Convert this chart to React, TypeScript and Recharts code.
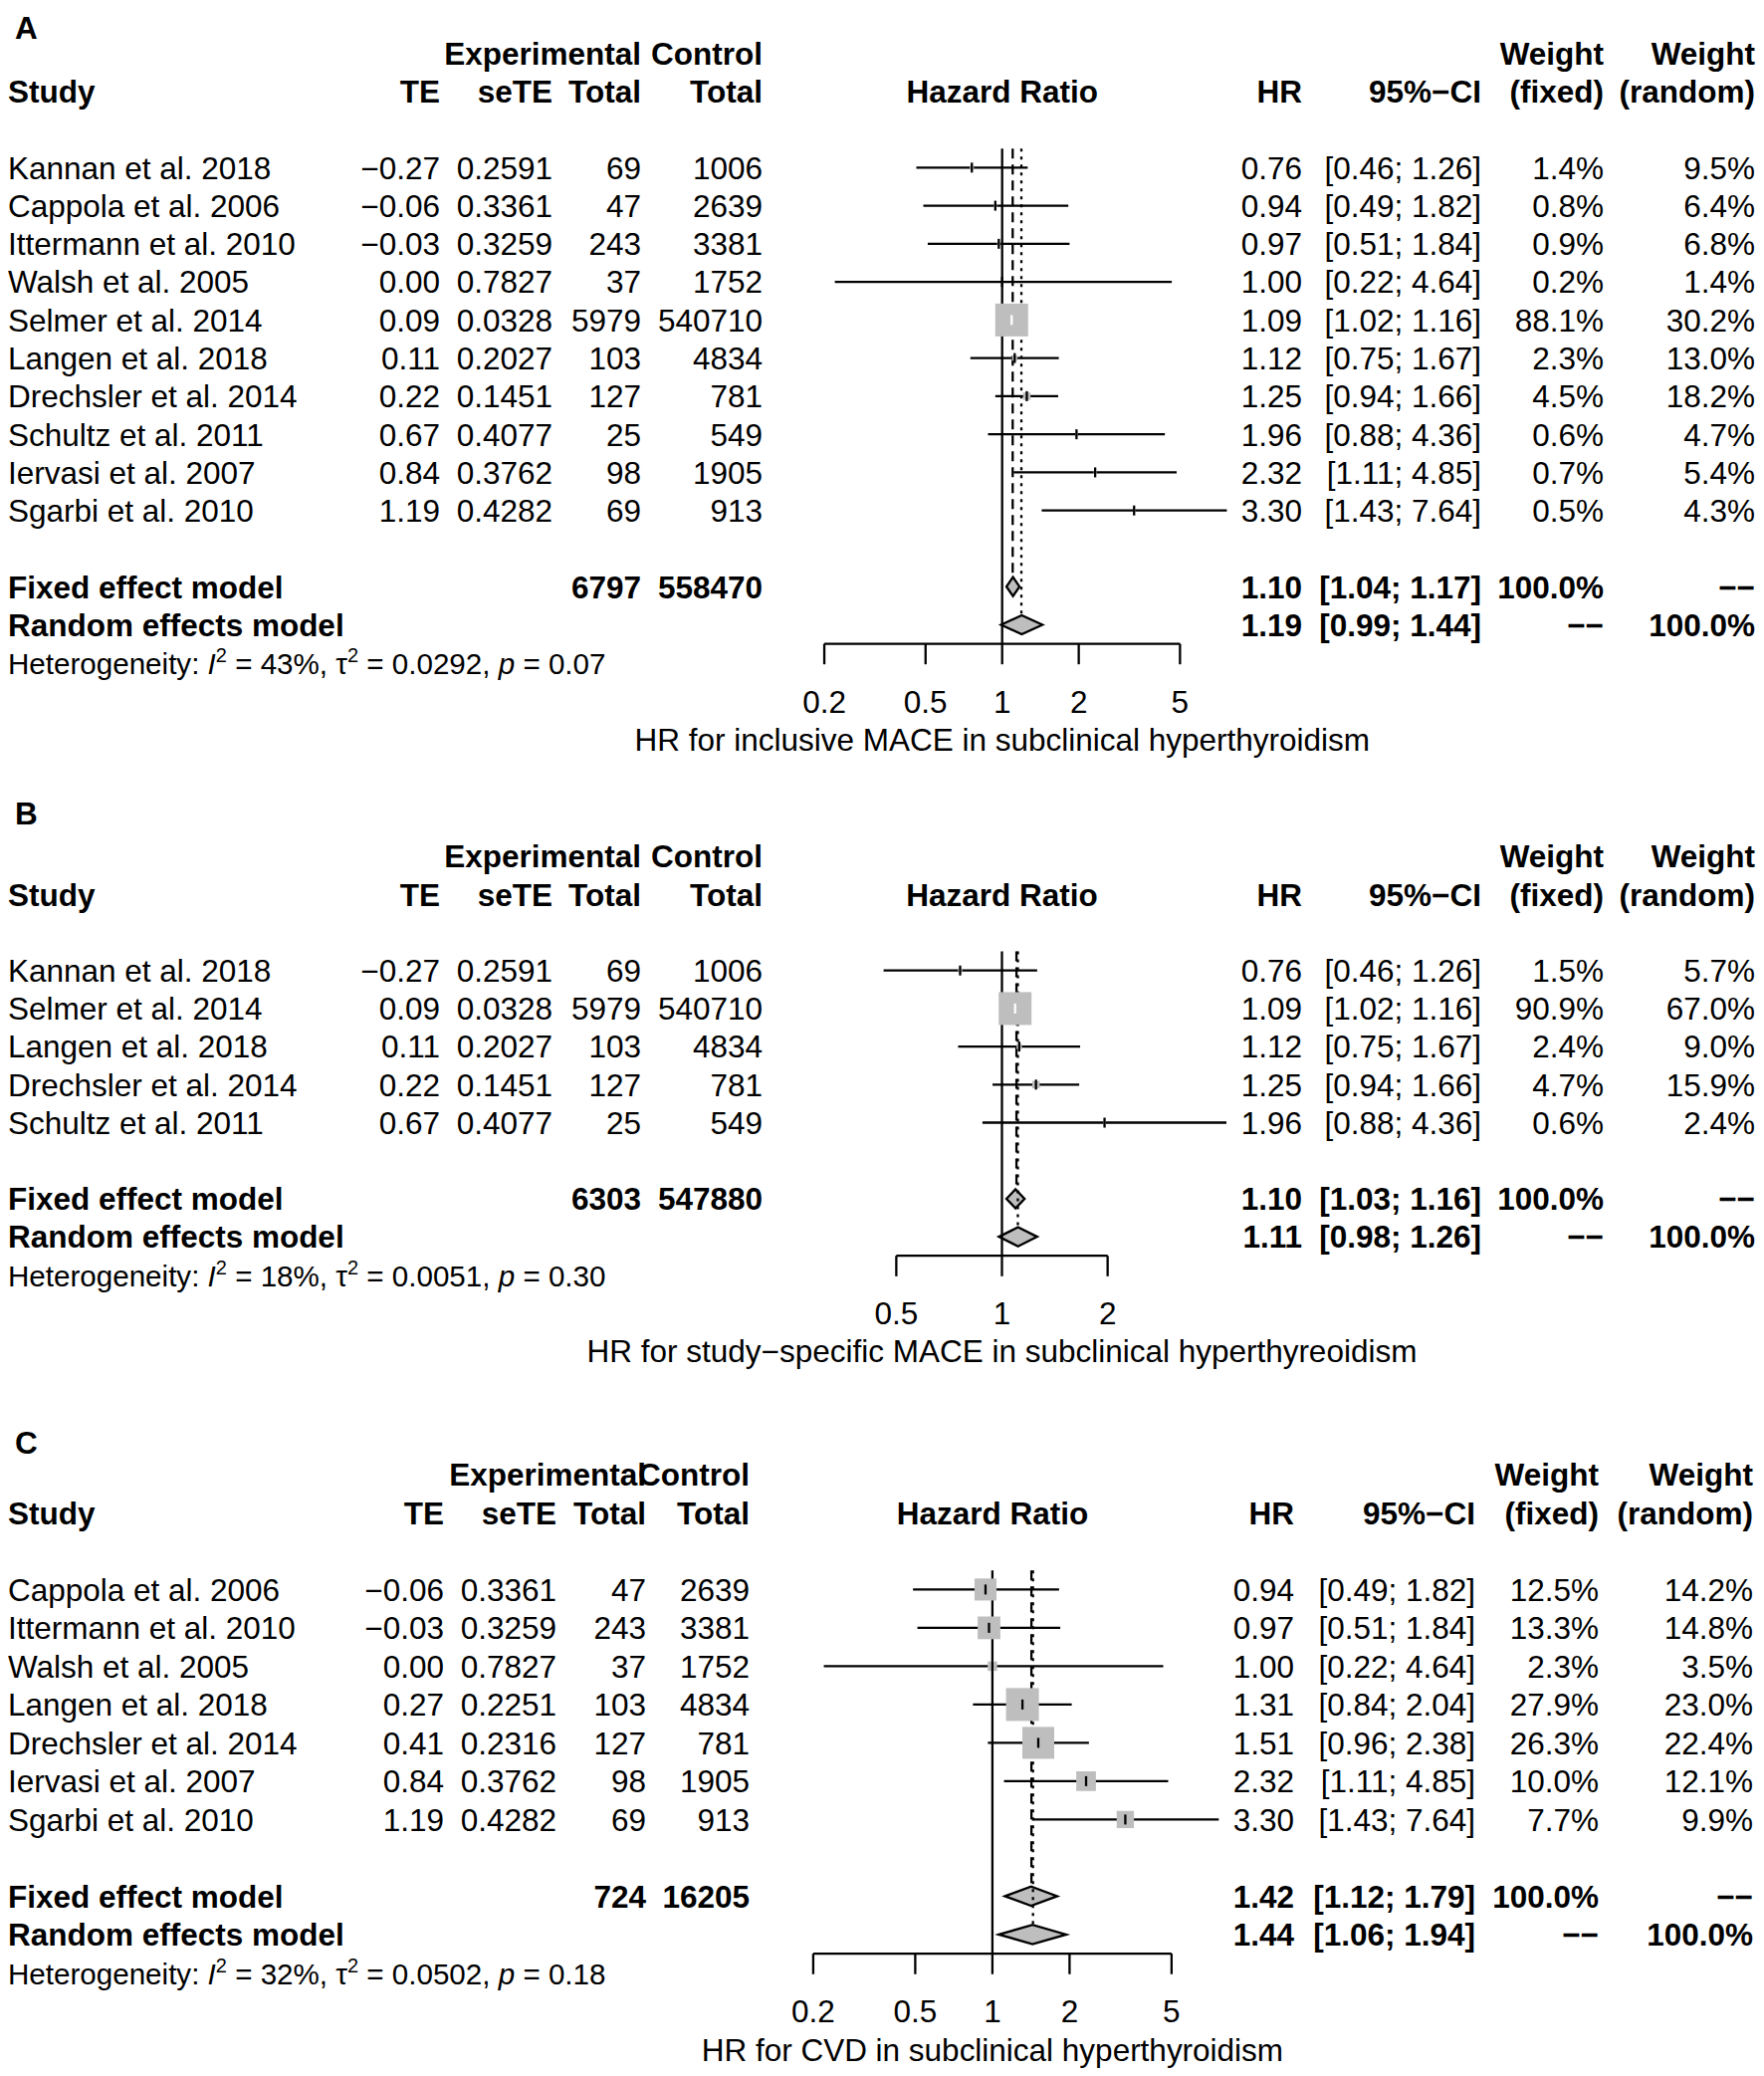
import React from 'react'
import { ScatterChart, Scatter, XAxis, YAxis, ErrorBar, ReferenceLine, ReferenceArea } from 'recharts'

const FONT = '"Liberation Sans", Arial, Helvetica, sans-serif'
const FS = 31.5
const GREY = '#bebebe'
const LW = 2.3
const MINUS = '\u2212'
const W = 1772

// ---- panel A: inclusive MACE
const studiesA = ['Kannan et al. 2018', 'Cappola et al. 2006', 'Ittermann et al. 2010', 'Walsh et al. 2005', 'Selmer et al. 2014', 'Langen et al. 2018', 'Drechsler et al. 2014', 'Schultz et al. 2011', 'Iervasi et al. 2007', 'Sgarbi et al. 2010']
const teA = [-0.27, -0.06, -0.03, 0.0, 0.09, 0.11, 0.22, 0.67, 0.84, 1.19]
const seA = [0.2591, 0.3361, 0.3259, 0.7827, 0.0328, 0.2027, 0.1451, 0.4077, 0.3762, 0.4282]
const nExpA = [69, 47, 243, 37, 5979, 103, 127, 25, 98, 69]
const nCtrlA = [1006, 2639, 3381, 1752, 540710, 4834, 781, 549, 1905, 913]
const hrA = [0.76, 0.94, 0.97, 1.0, 1.09, 1.12, 1.25, 1.96, 2.32, 3.3]
const loA = [0.46, 0.49, 0.51, 0.22, 1.02, 0.75, 0.94, 0.88, 1.11, 1.43]
const hiA = [1.26, 1.82, 1.84, 4.64, 1.16, 1.67, 1.66, 4.36, 4.85, 7.64]
const wFixA = [1.4, 0.8, 0.9, 0.2, 88.1, 2.3, 4.5, 0.6, 0.7, 0.5]
const wRanA = [9.5, 6.4, 6.8, 1.4, 30.2, 13.0, 18.2, 4.7, 5.4, 4.3]
const fixedA = [1.1, 1.04, 1.17]
const randomA = [1.19, 0.99, 1.44]
const totalsA = [6797, 558470]
const hetA = ['43%', '0.0292', '0.07']
const ticksA = [0.2, 0.5, 1, 2, 5]

// ---- panel B: study-specific MACE
const studiesB = ['Kannan et al. 2018', 'Selmer et al. 2014', 'Langen et al. 2018', 'Drechsler et al. 2014', 'Schultz et al. 2011']
const teB = [-0.27, 0.09, 0.11, 0.22, 0.67]
const seB = [0.2591, 0.0328, 0.2027, 0.1451, 0.4077]
const nExpB = [69, 5979, 103, 127, 25]
const nCtrlB = [1006, 540710, 4834, 781, 549]
const hrB = [0.76, 1.09, 1.12, 1.25, 1.96]
const loB = [0.46, 1.02, 0.75, 0.94, 0.88]
const hiB = [1.26, 1.16, 1.67, 1.66, 4.36]
const wFixB = [1.5, 90.9, 2.4, 4.7, 0.6]
const wRanB = [5.7, 67.0, 9.0, 15.9, 2.4]
const fixedB = [1.1, 1.03, 1.16]
const randomB = [1.11, 0.98, 1.26]
const totalsB = [6303, 547880]
const hetB = ['18%', '0.0051', '0.30']
const ticksB = [0.5, 1, 2]

// ---- panel C: CVD
const studiesC = ['Cappola et al. 2006', 'Ittermann et al. 2010', 'Walsh et al. 2005', 'Langen et al. 2018', 'Drechsler et al. 2014', 'Iervasi et al. 2007', 'Sgarbi et al. 2010']
const teC = [-0.06, -0.03, 0.0, 0.27, 0.41, 0.84, 1.19]
const seC = [0.3361, 0.3259, 0.7827, 0.2251, 0.2316, 0.3762, 0.4282]
const nExpC = [47, 243, 37, 103, 127, 98, 69]
const nCtrlC = [2639, 3381, 1752, 4834, 781, 1905, 913]
const hrC = [0.94, 0.97, 1.0, 1.31, 1.51, 2.32, 3.3]
const loC = [0.49, 0.51, 0.22, 0.84, 0.96, 1.11, 1.43]
const hiC = [1.82, 1.84, 4.64, 2.04, 2.38, 4.85, 7.64]
const wFixC = [12.5, 13.3, 2.3, 27.9, 26.3, 10.0, 7.7]
const wRanC = [14.2, 14.8, 3.5, 23.0, 22.4, 12.1, 9.9]
const fixedC = [1.42, 1.12, 1.79]
const randomC = [1.44, 1.06, 1.94]
const totalsC = [724, 16205]
const hetC = ['32%', '0.0502', '0.18']
const ticksC = [0.2, 0.5, 1, 2, 5]

type Cols = { te: number; se: number; nE: number; nC: number; hr: number; ci: number; wf: number; wr: number }
type Layout = { rowY0: number; sp: number; yTop: number; tagRow: number; c1: number; ppd: number; axisH: number; cols: Cols }
type Cell = { t: React.ReactNode; x?: number; anchor: 'start' | 'middle' | 'end'; bold?: boolean; atCx?: boolean }

const colsAB: Cols = { te: 442, se: 555, nE: 644, nC: 766, hr: 1308, ci: 1488, wf: 1611, wr: 1763 }
const colsC: Cols = { te: 446, se: 559, nE: 649, nC: 753, hr: 1300, ci: 1482, wf: 1606, wr: 1761 }

const fmtTE = (v: number) => (v < 0 ? MINUS + Math.abs(v).toFixed(2) : v.toFixed(2))
const fmtCI = (lo: number, hi: number) => `[${lo.toFixed(2)}; ${hi.toFixed(2)}]`

function ForestPanel(props: {
  tag: string; studies: string[]; te: number[]; se: number[]; nE: number[]; nC: number[]
  hr: number[]; lo: number[]; hi: number[]; wF: number[]; wR: number[]
  fixed: number[]; random: number[]; totals: number[]; het: string[]; ticks: number[]
  xLabel: string; L: Layout
}) {
  const { L } = props
  const n = props.studies.length
  const fixedRow = n + 1
  const randomRow = n + 2
  const baseRow = n + 2.5
  const top = L.rowY0 + L.yTop * L.sp
  const plotH = (baseRow - L.yTop) * L.sp
  const height = plotH + L.axisH
  const domain = [Math.pow(10, -L.c1 / L.ppd), Math.pow(10, (W - L.c1) / L.ppd)]
  const c = L.cols

  // square side follows sqrt of fixed weight, largest study ~33px
  const wMax = Math.max(...props.wF)
  const side = props.wF.map((w) => 33 * Math.sqrt(w / wMax))
  const inside = props.lo.map((lo, i) => L.ppd * Math.log10(props.hi[i] / lo) < side[i])

  const squares = props.hr.map((x, i) => ({ x, y: i, s: side[i] }))
  const ci = props.hr.map((x, i) => ({ x, y: i, err: [x - props.lo[i], props.hi[i] - x] }))
  const ciOut = ci.filter((_, i) => !inside[i])
  const ciIn = ci.filter((_, i) => inside[i])

  const rows: { x: number; y: number; cells: Cell[] }[] = []
  rows.push({ x: 1, y: L.tagRow, cells: [{ t: props.tag, x: 15, anchor: 'start', bold: true }] })
  rows.push({
    x: 1, y: -3, cells: [
      { t: 'Experimental', x: c.nE, anchor: 'end', bold: true },
      { t: 'Control', x: c.nC, anchor: 'end', bold: true },
      { t: 'Weight', x: c.wf, anchor: 'end', bold: true },
      { t: 'Weight', x: c.wr, anchor: 'end', bold: true },
    ],
  })
  rows.push({
    x: 1, y: -2, cells: [
      { t: 'Study', x: 8, anchor: 'start', bold: true },
      { t: 'TE', x: c.te, anchor: 'end', bold: true },
      { t: 'seTE', x: c.se, anchor: 'end', bold: true },
      { t: 'Total', x: c.nE, anchor: 'end', bold: true },
      { t: 'Total', x: c.nC, anchor: 'end', bold: true },
      { t: 'Hazard Ratio', anchor: 'middle', bold: true, atCx: true },
      { t: 'HR', x: c.hr, anchor: 'end', bold: true },
      { t: '95%' + MINUS + 'CI', x: c.ci, anchor: 'end', bold: true },
      { t: '(fixed)', x: c.wf, anchor: 'end', bold: true },
      { t: '(random)', x: c.wr, anchor: 'end', bold: true },
    ],
  })
  props.studies.forEach((s, i) => {
    rows.push({
      x: 1, y: i, cells: [
        { t: s, x: 8, anchor: 'start' },
        { t: fmtTE(props.te[i]), x: c.te, anchor: 'end' },
        { t: props.se[i].toFixed(4), x: c.se, anchor: 'end' },
        { t: String(props.nE[i]), x: c.nE, anchor: 'end' },
        { t: String(props.nC[i]), x: c.nC, anchor: 'end' },
        { t: props.hr[i].toFixed(2), x: c.hr, anchor: 'end' },
        { t: fmtCI(props.lo[i], props.hi[i]), x: c.ci, anchor: 'end' },
        { t: props.wF[i].toFixed(1) + '%', x: c.wf, anchor: 'end' },
        { t: props.wR[i].toFixed(1) + '%', x: c.wr, anchor: 'end' },
      ],
    })
  })
  const dash2 = MINUS + MINUS
  rows.push({
    x: 1, y: fixedRow, cells: [
      { t: 'Fixed effect model', x: 8, anchor: 'start', bold: true },
      { t: String(props.totals[0]), x: c.nE, anchor: 'end', bold: true },
      { t: String(props.totals[1]), x: c.nC, anchor: 'end', bold: true },
      { t: props.fixed[0].toFixed(2), x: c.hr, anchor: 'end', bold: true },
      { t: fmtCI(props.fixed[1], props.fixed[2]), x: c.ci, anchor: 'end', bold: true },
      { t: '100.0%', x: c.wf, anchor: 'end', bold: true },
      { t: dash2, x: c.wr, anchor: 'end', bold: true },
    ],
  })
  rows.push({
    x: 1, y: randomRow, cells: [
      { t: 'Random effects model', x: 8, anchor: 'start', bold: true },
      { t: props.random[0].toFixed(2), x: c.hr, anchor: 'end', bold: true },
      { t: fmtCI(props.random[1], props.random[2]), x: c.ci, anchor: 'end', bold: true },
      { t: dash2, x: c.wf, anchor: 'end', bold: true },
      { t: '100.0%', x: c.wr, anchor: 'end', bold: true },
    ],
  })

  const textRow = (p: any) => (
    <g>
      {p.payload.cells.map((cell: Cell, k: number) => (
        <text
          key={k}
          x={cell.atCx ? p.cx : cell.x}
          y={p.cy + FS * 0.36}
          textAnchor={cell.anchor}
          fontFamily={FONT}
          fontSize={FS}
          fontWeight={cell.bold ? 'bold' : 'normal'}
          fill="#000"
        >
          {cell.t}
        </text>
      ))}
    </g>
  )

  const diamond = (p: any) => {
    const { x, y, width: w, height: h } = p
    return (
      <polygon
        points={`${x},${y + h / 2} ${x + w / 2},${y} ${x + w},${y + h / 2} ${x + w / 2},${y + h}`}
        fill={GREY}
        stroke="#000"
        strokeWidth={LW}
      />
    )
  }

  const axisLabel = (lp: any) => {
    const vb = lp.viewBox || { y: plotH }
    const hy = vb.y + 0.5 * L.sp + FS * 0.36
    const hs = 29.6
    return (
      <g fontFamily={FONT} fill="#000">
        <text x={8} y={hy} fontSize={hs}>
          Heterogeneity: <tspan fontStyle="italic">I</tspan>
          <tspan dy={-12} fontSize={20}>2</tspan>
          <tspan dy={12}>{` = ${props.het[0]}, \u03c4`}</tspan>
          <tspan dy={-12} fontSize={20}>2</tspan>
          <tspan dy={12}>{` = ${props.het[1]}, `}</tspan>
          <tspan fontStyle="italic">p</tspan>
          <tspan>{` = ${props.het[2]}`}</tspan>
        </text>
        <text x={L.c1} y={vb.y + 2.5 * L.sp + FS * 0.36} fontSize={FS} textAnchor="middle">
          {props.xLabel}
        </text>
      </g>
    )
  }

  const lo = props.ticks[0]
  const hi = props.ticks[props.ticks.length - 1]

  return (
    <div style={{ position: 'absolute', left: 0, top }}>
      <ScatterChart width={W} height={height} margin={{ top: 0, right: 0, bottom: 0, left: 0 }}>
        <XAxis
          dataKey="x"
          type="number"
          scale="log"
          domain={domain}
          ticks={props.ticks}
          interval={0}
          axisLine={false}
          tickLine={{ stroke: '#000', strokeWidth: LW }}
          tickSize={20.6}
          tickMargin={26}
          tick={{ fontSize: FS, fill: '#000', fontFamily: FONT }}
          tickFormatter={(v: number) => String(v)}
          height={L.axisH}
          label={axisLabel}
        />
        <YAxis dataKey="y" type="number" domain={[L.yTop, baseRow]} reversed hide />

        <ReferenceLine segment={[{ x: lo, y: baseRow }, { x: hi, y: baseRow }]} stroke="#000" strokeWidth={LW} ifOverflow="visible" />
        <ReferenceLine segment={[{ x: 1, y: -0.5 }, { x: 1, y: baseRow }]} stroke="#000" strokeWidth={LW} ifOverflow="visible" />
        <ReferenceLine segment={[{ x: props.fixed[0], y: -0.5 }, { x: props.fixed[0], y: fixedRow - 0.25 }]} stroke="#000" strokeWidth={LW} strokeDasharray="10 6" ifOverflow="visible" />
        <ReferenceLine segment={[{ x: props.random[0], y: -0.5 }, { x: props.random[0], y: randomRow - 0.25 }]} stroke="#000" strokeWidth={LW} strokeDasharray="3 5" ifOverflow="visible" />

        <ReferenceArea x1={props.fixed[1]} x2={props.fixed[2]} y1={fixedRow - 0.25} y2={fixedRow + 0.25} shape={diamond} ifOverflow="visible" />
        <ReferenceArea x1={props.random[1]} x2={props.random[2]} y1={randomRow - 0.25} y2={randomRow + 0.25} shape={diamond} ifOverflow="visible" />

        <Scatter
          data={squares}
          isAnimationActive={false}
          shape={(p: any) => <rect x={p.cx - p.payload.s / 2} y={p.cy - p.payload.s / 2} width={p.payload.s} height={p.payload.s} fill={GREY} />}
        />
        <Scatter
          data={ciOut}
          isAnimationActive={false}
          shape={(p: any) => <line x1={p.cx} x2={p.cx} y1={p.cy - 5} y2={p.cy + 5} stroke="#000" strokeWidth={LW} />}
        >
          <ErrorBar dataKey="err" direction="x" width={0} stroke="#000" strokeWidth={LW} isAnimationActive={false} />
        </Scatter>
        <Scatter
          data={ciIn}
          isAnimationActive={false}
          shape={(p: any) => <line x1={p.cx} x2={p.cx} y1={p.cy - 5} y2={p.cy + 5} stroke="#fff" strokeWidth={LW} />}
        >
          <ErrorBar dataKey="err" direction="x" width={0} stroke="#fff" strokeWidth={LW} isAnimationActive={false} />
        </Scatter>
        <Scatter data={rows} isAnimationActive={false} shape={textRow} />
      </ScatterChart>
    </div>
  )
}

const layoutA: Layout = { rowY0: 168.8, sp: 38.26, yTop: -4.4, tagRow: -3.68, c1: 1006.7, ppd: 255.6, axisH: 140, cols: colsAB }
const layoutB: Layout = { rowY0: 974.4, sp: 38.2, yTop: -4.6, tagRow: -4.14, c1: 1006.5, ppd: 352.6, axisH: 130, cols: colsAB }
const layoutC: Layout = { rowY0: 1596.5, sp: 38.5, yTop: -4.4, tagRow: -3.83, c1: 996.9, ppd: 257.5, axisH: 118, cols: colsC }

export default function App() {
  return (
    <div style={{ position: 'relative', width: W, height: 2085, margin: '-8px 0 0 -8px', background: '#fff', overflow: 'hidden' }}>
      <ForestPanel
        tag="A" studies={studiesA} te={teA} se={seA} nE={nExpA} nC={nCtrlA} hr={hrA} lo={loA} hi={hiA}
        wF={wFixA} wR={wRanA} fixed={fixedA} random={randomA} totals={totalsA} het={hetA} ticks={ticksA}
        xLabel="HR for inclusive MACE in subclinical hyperthyroidism" L={layoutA}
      />
      <ForestPanel
        tag="B" studies={studiesB} te={teB} se={seB} nE={nExpB} nC={nCtrlB} hr={hrB} lo={loB} hi={hiB}
        wF={wFixB} wR={wRanB} fixed={fixedB} random={randomB} totals={totalsB} het={hetB} ticks={ticksB}
        xLabel={'HR for study' + MINUS + 'specific MACE in subclinical hyperthyreoidism'} L={layoutB}
      />
      <ForestPanel
        tag="C" studies={studiesC} te={teC} se={seC} nE={nExpC} nC={nCtrlC} hr={hrC} lo={loC} hi={hiC}
        wF={wFixC} wR={wRanC} fixed={fixedC} random={randomC} totals={totalsC} het={hetC} ticks={ticksC}
        xLabel="HR for CVD in subclinical hyperthyroidism" L={layoutC}
      />
    </div>
  )
}
